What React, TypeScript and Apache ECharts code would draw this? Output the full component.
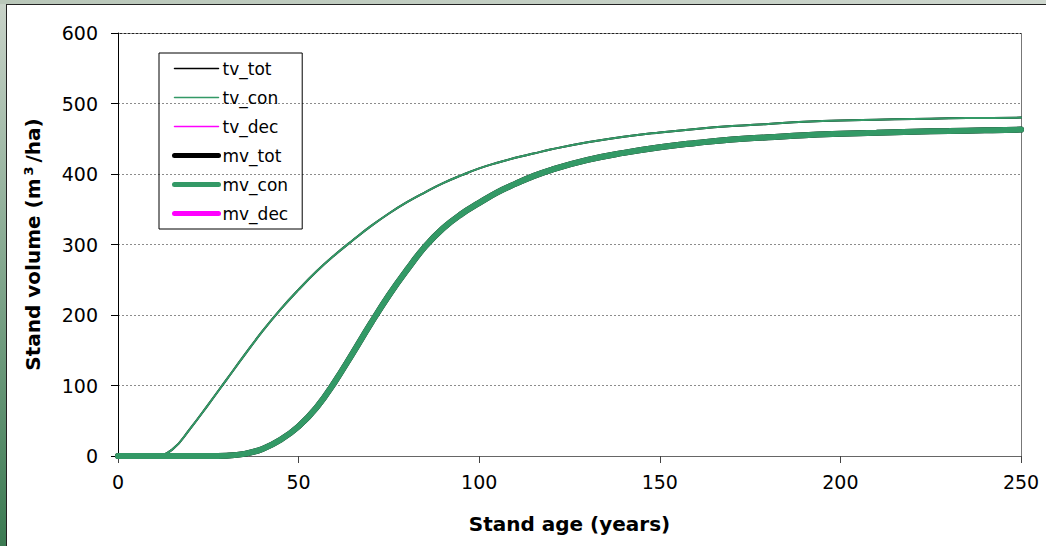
import React, { useEffect, useRef } from "react";
import * as echarts from "echarts";

// Stand age (years)
const ages = [0, 5, 10, 15, 20, 25, 30, 35, 40, 45, 50, 55, 60, 65, 70, 75, 80, 85, 90, 95, 100, 105, 110, 115, 120, 130, 140, 150, 160, 170, 180, 190, 200, 210, 220, 230, 240, 250];
// Total volume, coniferous (m3/ha)
const tvCon = [0, 0, 0, 9, 39, 73, 108, 143, 177, 208, 236, 262, 285, 306, 326, 344, 360, 374, 387, 398, 408, 416, 423, 429, 435, 445, 453, 459, 464, 468, 471, 474, 476, 477, 478, 479, 479.5, 480];
// Merchantable volume, coniferous (m3/ha)
const mvCon = [0, 0, 0, 0, 0, 0, 0.5, 3, 10, 23, 42, 69, 105, 146, 188, 228, 264, 297, 323, 343, 359, 374, 386, 397, 406, 420, 430, 438, 444, 449, 452, 455, 457, 458.5, 460, 461, 462, 463];
// Deciduous volumes: no values plotted (legend entries only)
const tvDec: (number | null)[] = ages.map(() => null);
const mvDec: (number | null)[] = ages.map(() => null);
// Totals (coniferous + deciduous)
const tvTot = tvCon.map((v, i) => v + (tvDec[i] ?? 0));
const mvTot = mvCon.map((v, i) => v + (mvDec[i] ?? 0));

const legendNames = ["tv_tot", "tv_con", "tv_dec", "mv_tot", "mv_con", "mv_dec"];

const pair = (vals: (number | null)[]) => ages.map((a, i) => [a, vals[i] === null ? "-" : vals[i]]);

const GREEN = "#339966";
const MAGENTA = "#ff00ff";
const FONT = "DejaVu Sans";

export default function App() {
  const ref = useRef<HTMLDivElement>(null);
  useEffect(() => {
    document.body.style.margin = "0";
    const chart = echarts.init(ref.current!, null, { renderer: "svg" });
    const mk = (name: string, data: (number | null)[], color: string, width: number) => ({
      name,
      type: "line",
      data: pair(data),
      smooth: 0.45,
      symbol: "none",
      lineStyle: { color, width, cap: "round" },
      itemStyle: { color },
    });
    const legendWidth: Record<string, number> = { tv_tot: 1.5, tv_con: 1.5, tv_dec: 1.5, mv_tot: 5, mv_con: 5, mv_dec: 5 };
    const legendColor: Record<string, string> = { tv_tot: "#000", tv_con: GREEN, tv_dec: MAGENTA, mv_tot: "#000", mv_con: GREEN, mv_dec: MAGENTA };
    chart.setOption({
      animation: false,
      backgroundColor: "#ffffff",
      grid: { left: 118, top: 33, right: 25, bottom: 90 },
      legend: {
        orient: "vertical",
        left: 159,
        top: 53,
        padding: [7, 14, 7, 13],
        borderColor: "#000",
        borderWidth: 1,
        itemWidth: 44,
        itemHeight: 14,
        itemGap: 12,
        itemStyle: { opacity: 0 },
        textStyle: { fontFamily: FONT, fontSize: 17, color: "#000", padding: [0, 0, 0, -1] },
        data: legendNames.map((n) => ({
          name: n,
          lineStyle: { width: legendWidth[n], color: legendColor[n], cap: "round" },
        })),
      },
      xAxis: {
        type: "value",
        min: 0,
        max: 250,
        interval: 50,
        name: "Stand age (years)",
        nameLocation: "middle",
        nameGap: 58,
        nameTextStyle: { fontFamily: FONT, fontSize: 20, fontWeight: "bold", color: "#000" },
        axisLine: { show: true, lineStyle: { color: "#666", width: 1 } },
        axisTick: { show: true, length: 7, lineStyle: { color: "#444" } },
        axisLabel: { fontFamily: FONT, fontSize: 19, color: "#000", margin: 16 },
        splitLine: { show: false },
      },
      yAxis: {
        type: "value",
        min: 0,
        max: 600,
        interval: 100,
        name: "Stand volume (m{s|3}/ha)",
        nameLocation: "middle",
        nameGap: 75,
        nameTextStyle: {
          fontFamily: FONT,
          fontSize: 20,
          fontWeight: "bold",
          color: "#000",
          rich: {
            s: { fontFamily: FONT, fontSize: 13, fontWeight: "bold", color: "#000", verticalAlign: "top", padding: [0, 4, 8, 3] },
          },
        },
        axisLine: { show: true, lineStyle: { color: "#000", width: 1 } },
        axisTick: { show: true, length: 7, lineStyle: { color: "#000" } },
        axisLabel: { fontFamily: FONT, fontSize: 19, color: "#000", margin: 20 },
        splitLine: { show: true, lineStyle: { color: "#8c8c8c", type: [2, 2], width: 1 } },
      },
      graphic: [
        {
          type: "rect",
          shape: { x: 0, y: 0, width: 6, height: 546 },
          style: {
            fill: new echarts.graphic.LinearGradient(0, 0, 0, 1, [
              { offset: 0, color: "#c9d3c9" },
              { offset: 1, color: "#3b7a52" },
            ]),
          },
          silent: true,
        },
        {
          type: "rect",
          shape: { x: 0, y: 0, width: 1046, height: 4 },
          style: {
            fill: new echarts.graphic.LinearGradient(0, 0, 1, 0, [
              { offset: 0, color: "#b9c7b9" },
              { offset: 1, color: "#cdd6cd" },
            ]),
          },
          silent: true,
        },
        { type: "line", shape: { x1: 6.5, y1: 4, x2: 6.5, y2: 546 }, style: { stroke: "#222", lineWidth: 1 }, silent: true },
        { type: "line", shape: { x1: 6, y1: 4.5, x2: 1046, y2: 4.5 }, style: { stroke: "#222", lineWidth: 1 }, silent: true },
        { type: "line", shape: { x1: 118, y1: 33.5, x2: 1021, y2: 33.5 }, style: { stroke: "#222", lineWidth: 1 }, silent: true },
        { type: "line", shape: { x1: 1021.5, y1: 33, x2: 1021.5, y2: 456 }, style: { stroke: "#777", lineWidth: 1 }, silent: true },
      ],
      // drawing order: deciduous underneath, totals next, coniferous on top
      series: [
        mk("tv_dec", tvDec, MAGENTA, 2),
        mk("mv_dec", mvDec, MAGENTA, 6),
        mk("tv_tot", tvTot, "#000000", 2),
        mk("mv_tot", mvTot, "#000000", 6),
        mk("tv_con", tvCon, GREEN, 2),
        mk("mv_con", mvCon, GREEN, 6),
      ],
    });
    return () => chart.dispose();
  }, []);
  return <div ref={ref} style={{ width: 1046, height: 546 }} />;
}
